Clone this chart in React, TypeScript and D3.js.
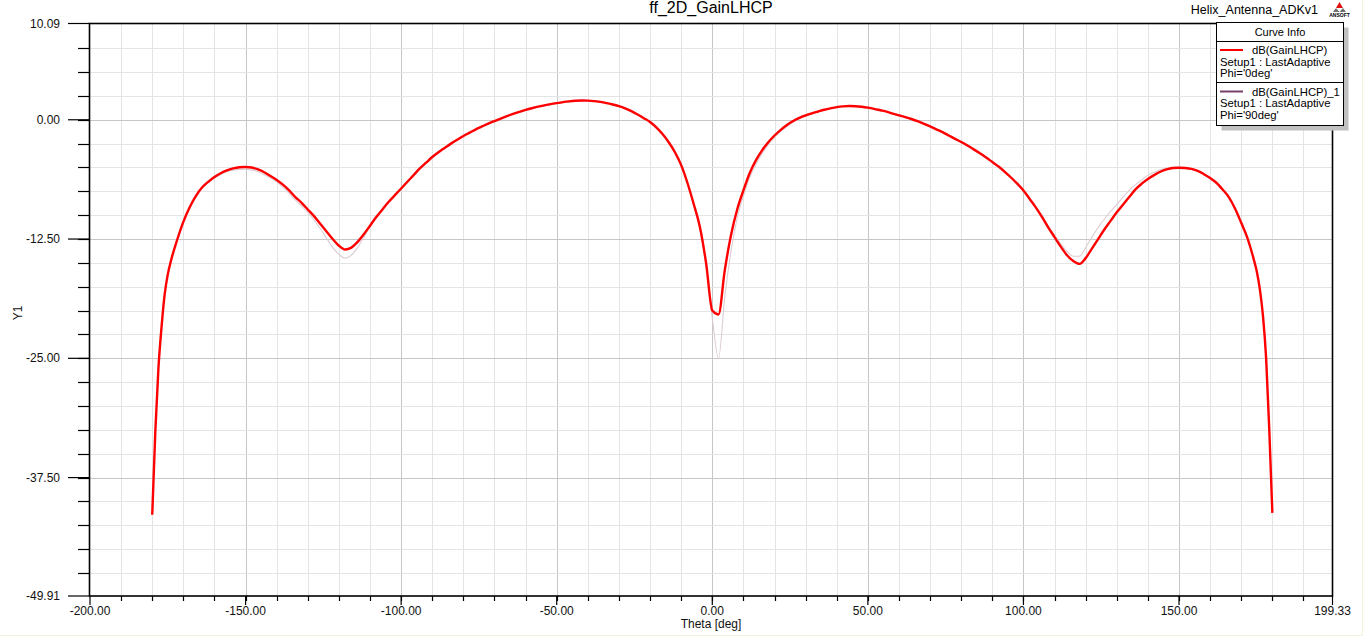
import React from "react";
import * as d3 from "d3";

const TITLE = "ff_2D_GainLHCP";
const PROJECT = "Helix_Antenna_ADKv1";
const X_LABEL = "Theta [deg]";
const Y_LABEL = "Y1";
const X_TICKS = [-200, -150, -100, -50, 0, 50, 100, 150, 199.33];
const Y_TICKS = [10.09, 0, -12.5, -25, -37.5, -49.91];
const X_DOMAIN = [-200, 199.33];
const Y_DOMAIN = [-49.91, 10.09];

const THETA = [
  -180, -179, -178, -177, -176, -175, -174, -172, -170, -168, -166, -164, -162, -160, -158, -156, -154, -152, -150,
  -148, -146, -144, -142, -140, -138, -136, -134, -132, -130, -128, -126, -124, -122, -120, -118, -116, -114, -112, -110,
  -108, -106, -104, -102, -100, -98, -96, -94, -92, -90, -88, -86, -84, -82, -80, -78, -76, -74, -72, -70,
  -68, -66, -64, -62, -60, -58, -56, -54, -52, -50, -48, -46, -44, -42, -40, -38, -36, -34, -32, -30,
  -28, -26, -24, -22, -20, -18, -16, -14, -12, -10, -8, -6, -4, -2, 0,
  2, 4, 6, 8, 10, 12, 14, 16, 18, 20, 22, 24, 26, 28, 30,
  32, 34, 36, 38, 40, 42, 44, 46, 48, 50, 52, 54, 56, 58, 60, 62, 64, 66, 68, 70,
  72, 74, 76, 78, 80, 82, 84, 86, 88, 90, 92, 94, 96, 98, 100, 102, 104, 106, 108, 110,
  112, 114, 116, 118, 120, 122, 124, 126, 128, 130, 132, 134, 136, 138, 140, 142, 144, 146, 148, 150,
  152, 154, 156, 158, 160, 162, 164, 166, 168, 170, 172, 174, 175, 176, 177, 178, 179, 180,
];

// dB(GainLHCP), Phi='0deg'
const GAIN_PHI0 = [
  -41.4, -32.6, -26.0, -21.7, -18.3, -16.2, -14.8, -12.6, -10.7, -9.2, -8.0, -7.1, -6.5, -6.0, -5.6, -5.3, -5.1, -4.98, -4.95,
  -5.0, -5.2, -5.5, -5.9, -6.3, -6.8, -7.4, -8.1, -8.7, -9.4, -10.1, -10.9, -11.7, -12.5, -13.2, -13.6, -13.4, -12.8, -12.0, -11.1,
  -10.2, -9.4, -8.6, -7.9, -7.2, -6.5, -5.8, -5.1, -4.5, -3.9, -3.4, -2.95, -2.5, -2.1, -1.7, -1.35, -1.0, -0.7, -0.4, -0.13,
  0.13, 0.38, 0.61, 0.83, 1.03, 1.21, 1.37, 1.51, 1.64, 1.75, 1.85, 1.93, 1.99, 2.02, 2.01, 1.96, 1.87, 1.75, 1.6, 1.43,
  1.2, 0.9, 0.55, 0.17, -0.24, -0.8, -1.5, -2.35, -3.4, -4.75, -6.6, -8.8, -11.2, -15.0, -20.0,
  -20.4, -15.8, -12.1, -9.4, -7.4, -5.6, -4.25, -3.2, -2.35, -1.65, -1.05, -0.55, -0.13, 0.2, 0.46,
  0.68, 0.87, 1.05, 1.2, 1.33, 1.41, 1.44, 1.42, 1.36, 1.27, 1.15, 1.0, 0.85, 0.65, 0.46, 0.28, 0.08, -0.15, -0.42, -0.69,
  -1.0, -1.3, -1.65, -2.0, -2.33, -2.7, -3.1, -3.5, -3.95, -4.43, -4.9, -5.45, -6.05, -6.7, -7.4, -8.3, -9.2, -10.2, -11.3, -12.3,
  -13.3, -14.2, -14.8, -15.1, -14.5, -13.5, -12.5, -11.5, -10.6, -9.7, -8.9, -8.1, -7.3, -6.7, -6.2, -5.8, -5.45, -5.2, -5.05, -5.02,
  -5.05, -5.15, -5.35, -5.7, -6.1, -6.6, -7.3, -8.1, -9.3, -10.8, -12.4, -14.6, -15.9, -17.8, -20.6, -25.0, -32.4, -41.2,
];

// dB(GainLHCP)_1, Phi='90deg'
const GAIN_PHI90 = [
  -41.4, -32.6, -26.0, -21.7, -18.3, -16.2, -14.8, -12.6, -10.7, -9.25, -8.1, -7.2, -6.6, -6.1, -5.75, -5.45, -5.3, -5.2, -5.2,
  -5.25, -5.45, -5.75, -6.1, -6.5, -7.05, -7.7, -8.4, -9.05, -9.7, -10.5, -11.4, -12.4, -13.4, -14.1, -14.5, -14.2, -13.4, -12.3, -11.2,
  -10.3, -9.45, -8.65, -7.95, -7.25, -6.55, -5.85, -5.15, -4.55, -3.95, -3.45, -3.0, -2.55, -2.15, -1.75, -1.4, -1.05, -0.75, -0.45, -0.18,
  0.08, 0.33, 0.56, 0.78, 0.98, 1.16, 1.32, 1.46, 1.59, 1.7, 1.8, 1.88, 1.94, 1.97, 1.96, 1.91, 1.82, 1.7, 1.55, 1.38,
  1.15, 0.85, 0.5, 0.12, -0.3, -0.86, -1.57, -2.43, -3.5, -4.85, -6.7, -8.95, -11.4, -15.3, -20.8,
  -25.0, -18.6, -13.8, -10.3, -8.0, -6.1, -4.7, -3.55, -2.6, -1.85, -1.22, -0.7, -0.25, 0.1, 0.38,
  0.62, 0.83, 1.02, 1.18, 1.32, 1.41, 1.45, 1.43, 1.38, 1.29, 1.17, 1.02, 0.87, 0.68, 0.49, 0.31, 0.11, -0.12, -0.38, -0.65,
  -0.95, -1.25, -1.6, -1.95, -2.28, -2.65, -3.05, -3.45, -3.9, -4.38, -4.85, -5.4, -6.0, -6.65, -7.35, -8.2, -9.1, -10.05, -11.1, -12.1,
  -13.0, -13.8, -14.3, -14.3, -13.4, -12.3, -11.3, -10.4, -9.6, -8.9, -8.1, -7.4, -6.8, -6.3, -5.8, -5.5, -5.25, -5.05, -4.98, -4.95,
  -5.0, -5.12, -5.33, -5.68, -6.08, -6.6, -7.3, -8.1, -9.3, -10.8, -12.4, -14.6, -15.9, -17.8, -20.6, -25.0, -32.4, -41.2,
];

const LEGEND = [
  { name: "dB(GainLHCP)", setup: "Setup1 : LastAdaptive", phi: "Phi='0deg'", color: "#ff0000" },
  { name: "dB(GainLHCP)_1", setup: "Setup1 : LastAdaptive", phi: "Phi='90deg'", color: "#774068" },
];

const FONT = "'Liberation Sans', Arial, sans-serif";

export default function App() {
  const W = 1367;
  const H = 637;
  const left = 89.5;
  const right = 1332.5;
  const top = 23.5;
  const bottom = 596;

  const x = d3.scaleLinear().domain(X_DOMAIN).range([90, right]);
  const y = d3.scaleLinear().domain(Y_DOMAIN).range([bottom, top]);

  const vGrid = d3.range(-190, 200, 10);
  const hGrid = d3.range(-47.5, 10, 2.5);

  const line = d3
    .line<number>()
    .x((_, i) => x(THETA[i]))
    .y((d) => y(d))
    .curve(d3.curveMonotoneX);

  const isMajorX = (v: number) => Math.abs(v % 50) < 1e-6;
  const isMajorY = (v: number) => Math.abs(v % 12.5) < 1e-6;

  const lx = 1216.5;
  const ly = 22.5;
  const lw = 127;
  const lh = 103;

  return (
    <svg
      width={W}
      height={H}
      style={{ position: "absolute", left: 0, top: 0, background: "#ffffff" }}
      fontFamily={FONT}
    >
      <rect x={0} y={0} width={W} height={H} fill="#ffffff" />
      <line x1={0} x2={1362} y1={635.5} y2={635.5} stroke="#f3f3dc" strokeWidth={1} />
      <line x1={1362.5} x2={1362.5} y1={0} y2={636} stroke="#f3f3dc" strokeWidth={1} />

      {/* grid */}
      {vGrid.map((v) => (
        <line
          key={"vg" + v}
          x1={Math.round(x(v)) + 0.5}
          x2={Math.round(x(v)) + 0.5}
          y1={top}
          y2={bottom}
          stroke={isMajorX(v) ? "#c6c6c6" : "#e4e4e4"}
          strokeWidth={1}
        />
      ))}
      {hGrid.map((v) => (
        <line
          key={"hg" + v}
          x1={left}
          x2={right}
          y1={Math.round(y(v)) + 0.5}
          y2={Math.round(y(v)) + 0.5}
          stroke={isMajorY(v) ? "#c6c6c6" : "#e4e4e4"}
          strokeWidth={1}
        />
      ))}

      {/* curves */}
      <path d={line(GAIN_PHI90) || ""} fill="none" stroke="#dccdd5" strokeWidth={1.1} />
      <path d={line(GAIN_PHI0) || ""} fill="none" stroke="#ff0000" strokeWidth={2.4} strokeLinejoin="round" />

      {/* frame */}
      <rect x={left} y={top} width={right - left} height={bottom - top} fill="none" stroke="#000" strokeWidth={1.6} />

      {/* y ticks */}
      {hGrid.map((v) => (
        <line key={"ym" + v} x1={78} x2={left} y1={Math.round(y(v)) + 0.5} y2={Math.round(y(v)) + 0.5} stroke="#000" strokeWidth={1.2} />
      ))}
      {Y_TICKS.map((v) => (
        <g key={"yt" + v}>
          <line x1={68} x2={left} y1={y(v)} y2={y(v)} stroke="#000" strokeWidth={1.2} />
          <text x={60} y={y(v) + 4} textAnchor="end" fontSize={12} fill="#111">
            {v.toFixed(2)}
          </text>
        </g>
      ))}

      {/* x ticks */}
      {vGrid.map((v) => (
        <line key={"xm" + v} x1={Math.round(x(v)) + 0.5} x2={Math.round(x(v)) + 0.5} y1={bottom} y2={bottom + 5} stroke="#000" strokeWidth={1.2} />
      ))}
      {X_TICKS.map((v) => (
        <g key={"xt" + v}>
          <line x1={x(v)} x2={x(v)} y1={bottom} y2={bottom + 9} stroke="#000" strokeWidth={1.2} />
          <text x={x(v)} y={615} textAnchor="middle" fontSize={12} fill="#111">
            {v.toFixed(2)}
          </text>
        </g>
      ))}

      {/* axis labels */}
      <text x={711} y={628} textAnchor="middle" fontSize={12} fill="#111">
        {X_LABEL}
      </text>
      <text x={22} y={313} textAnchor="middle" fontSize={12} fill="#111" transform="rotate(-90 22 313)">
        {Y_LABEL}
      </text>

      {/* title */}
      <text x={711} y={13} textAnchor="middle" fontSize={16} fill="#000">
        {TITLE}
      </text>
      <text x={1318} y={13.5} textAnchor="end" fontSize={12.5} fill="#000">
        {PROJECT}
      </text>

      {/* ANSOFT logo */}
      <g>
        <path d="M1339.5,2 L1343,8 L1336,8 Z" fill="#e01010" />
        <path d="M1336,8 L1339.5,12 L1333,12 Z" fill="#707070" />
        <path d="M1343,8 L1346,12 L1339.5,12 Z" fill="#707070" />
        <text x={1339.5} y={17} textAnchor="middle" fontSize={5} fontWeight="bold" fill="#000">
          ANSOFT
        </text>
      </g>

      {/* legend */}
      <rect x={lx + 5} y={ly + 5} width={lw} height={lh} fill="#c0c0c0" />
      <rect x={lx} y={ly} width={lw} height={lh} fill="#ffffff" stroke="#000" strokeWidth={1} />
      <text x={lx + lw / 2} y={ly + 13} textAnchor="middle" fontSize={11} fill="#000">
        Curve Info
      </text>
      <line x1={lx} x2={lx + lw} y1={41.5} y2={41.5} stroke="#000" strokeWidth={1} />
      <line x1={lx} x2={lx + lw} y1={82.5} y2={82.5} stroke="#000" strokeWidth={1} />
      {LEGEND.map((e, i) => {
        const by = 50 + i * 41.5;
        return (
          <g key={e.name}>
            <line x1={1220} x2={1243} y1={by} y2={by} stroke={e.color} strokeWidth={2} />
            <text x={1252} y={by + 4} fontSize={11.3} fill="#000">
              {e.name}
            </text>
            <text x={1220} y={by + 15.5} fontSize={11.3} fill="#000">
              {e.setup}
            </text>
            <text x={1220} y={by + 27} fontSize={11.3} fill="#000">
              {e.phi}
            </text>
          </g>
        );
      })}
    </svg>
  );
}
